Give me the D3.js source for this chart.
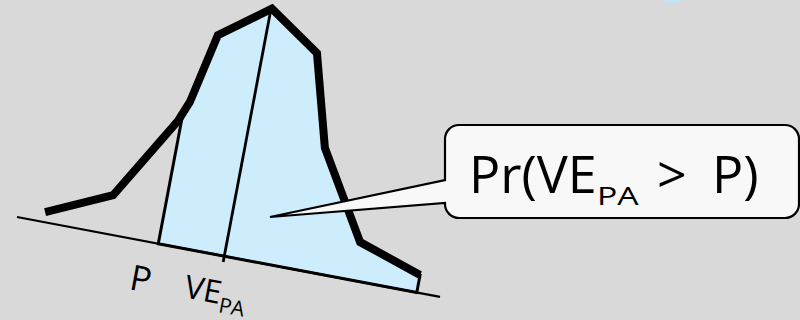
<!DOCTYPE html>
<html>
<head>
<meta charset="utf-8">
<script src="https://cdn.jsdelivr.net/npm/d3@7"></script>
<style>
  html, body { margin: 0; padding: 0; background: #d9d9d9; }
  svg { display: block; }
</style>
</head>
<body>
<script>
// Density curve (abstract units): position along the axis (0-100) and relative density (0-1)
const curveX = [6.2, 21.0, 32.6, 34.5, 38.0, 49.2, 61.4, 67.3, 79.4, 94.5];
const curveY = [0.040, 0.156, 0.493, 0.576, 0.857, 1.0, 0.860, 0.496, 0.155, 0.071];
const axisRange = [0, 100];
const thresholdP = 33.4;   // P
const estimateVE = 49.0;   // VE_PA
const labelP = "P";
const labelVE = ["VE", "PA"];
const calloutText = ["Pr(VE", "PA", ">", "P)"];

const W = 800, H = 320;
const svg = d3.select("body").append("svg").attr("width", W).attr("height", H);
svg.append("rect").attr("width", W).attr("height", H).attr("fill", "#d9d9d9");

// small blurred blue spot at the top edge
const defs = svg.append("defs");
defs.append("filter").attr("id", "blur").append("feGaussianBlur").attr("stdDeviation", 1.5);
svg.append("ellipse").attr("cx", 672).attr("cy", 0).attr("rx", 9).attr("ry", 3)
  .attr("fill", "#bfe6fb").attr("filter", "url(#blur)");

// rotated plotting frame
const g = svg.append("g").attr("transform", "translate(17,217) rotate(10.7)");
const x = d3.scaleLinear().domain(axisRange).range([0, 430.5]);
const y = d3.scaleLinear().domain([0, 1]).range([0, -252]);

const pts = curveX.map((v, i) => [v, curveY[i]]);
function densityAt(v) {
  for (let i = 0; i < pts.length - 1; i++) {
    const [x0, y0] = pts[i], [x1, y1] = pts[i + 1];
    if (v >= x0 && v <= x1) return y0 + (y1 - y0) * (v - x0) / (x1 - x0);
  }
  return 0;
}

// shaded region from P to the end of the curve
const areaPts = [[thresholdP, densityAt(thresholdP)]]
  .concat(pts.filter(p => p[0] > thresholdP));
const last = pts[pts.length - 1];
const poly = [[thresholdP, 0]].concat(areaPts).concat([[last[0], 0]]);
g.append("path")
  .attr("d", d3.line().x(d => x(d[0])).y(d => y(d[1]))(poly) + "Z")
  .attr("fill", "#cdedfd").attr("stroke", "#000").attr("stroke-width", 3)
  .attr("stroke-linejoin", "miter");

// baseline axis
g.append("line").attr("x1", x(axisRange[0])).attr("x2", x(axisRange[1]))
  .attr("y1", 0).attr("y2", 0).attr("stroke", "#000").attr("stroke-width", 2.2);

// VE line
g.append("line").attr("x1", x(estimateVE)).attr("x2", x(estimateVE))
  .attr("y1", 6).attr("y2", y(densityAt(estimateVE)))
  .attr("stroke", "#000").attr("stroke-width", 2.8);

// thick density curve
g.append("path")
  .attr("d", d3.line().x(d => x(d[0])).y(d => y(d[1]))(pts))
  .attr("fill", "none").attr("stroke", "#000").attr("stroke-width", 8)
  .attr("stroke-linejoin", "miter").attr("stroke-miterlimit", 3);

// labels under the axis
g.append("text").attr("x", x(thresholdP) - 21).attr("y", 50)
  .attr("font-family", "Open Sans").attr("font-size", 35).attr("fill", "#000")
  .text(labelP);
const ve = g.append("text").attr("x", x(estimateVE) - 33).attr("y", 48)
  .attr("font-family", "Open Sans").attr("font-size", 32).attr("fill", "#000");
ve.append("tspan").text(labelVE[0]);
ve.append("tspan").attr("font-size", 21).attr("dy", 8).text(labelVE[1]);

// callout with pointer
const bx = 445, by = 125, bw = 354, bh = 93, r = 14;
const tip = [270, 217];
const p = d3.path();
p.moveTo(bx + r, by);
p.lineTo(bx + bw - r, by);
p.arcTo(bx + bw, by, bx + bw, by + r, r);
p.lineTo(bx + bw, by + bh - r);
p.arcTo(bx + bw, by + bh, bx + bw - r, by + bh, r);
p.lineTo(bx + r, by + bh);
p.arcTo(bx, by + bh, bx, by + bh - r, r);
p.lineTo(bx, 203);
p.lineTo(tip[0], tip[1]);
p.lineTo(bx, 180);
p.lineTo(bx, by + r);
p.arcTo(bx, by, bx + r, by, r);
p.closePath();
svg.append("path").attr("d", p.toString())
  .attr("fill", "#f8f8f8").attr("stroke", "#000").attr("stroke-width", 2.2)
  .attr("stroke-linejoin", "miter");

const font = "Open Sans";
svg.append("text").attr("x", 469).attr("y", 193)
  .attr("font-family", font).attr("font-size", 52).attr("fill", "#000")
  .text(calloutText[0]);
svg.append("text").attr("transform", "translate(597,205) scale(1.35,1)")
  .attr("font-family", font).attr("font-size", 25).attr("fill", "#000")
  .text(calloutText[1]);
svg.append("text").attr("x", 657).attr("y", 193)
  .attr("font-family", font).attr("font-size", 52).attr("fill", "#000")
  .text(calloutText[2]);
svg.append("text").attr("x", 712).attr("y", 193)
  .attr("font-family", font).attr("font-size", 52).attr("fill", "#000")
  .text(calloutText[3]);
</script>
</body>
</html>
